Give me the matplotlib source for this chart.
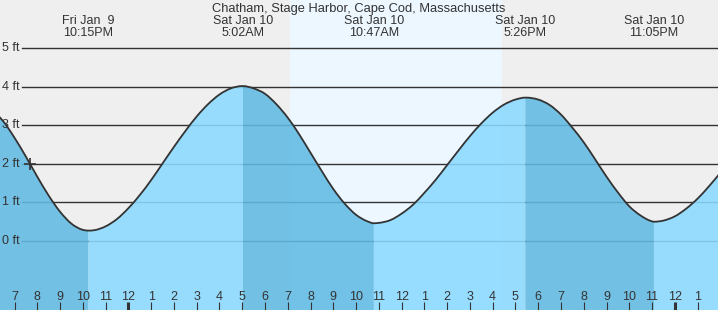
import numpy as np
import matplotlib.pyplot as plt
import matplotlib.transforms as mtransforms
from matplotlib.path import Path
from matplotlib.patches import PathPatch

plt.rcParams['font.family'] = ['Liberation Sans', 'DejaVu Sans']

TITLE = "Chatham, Stage Harbor, Cape Cod, Massachusetts"

# tide height (ft) read every half hour, hours counted from Fri Jan 9 00:00
hours = np.arange(18.0, 50.5, 0.5)
heights = [3.41, 3.11, 2.68, 2.19, 1.67, 1.18, 0.76, 0.45, 0.29,
           0.28, 0.38, 0.57, 0.85, 1.19, 1.58, 2.01, 2.44, 2.85, 3.23, 3.55, 3.80, 3.96, 4.02,
           3.96, 3.82, 3.55, 3.20, 2.77, 2.29, 1.81, 1.35, 0.97, 0.68, 0.51,
           0.47, 0.54, 0.71, 0.94, 1.25, 1.59, 1.97, 2.35, 2.72, 3.05, 3.33, 3.54, 3.67, 3.72,
           3.67, 3.53, 3.28, 2.94, 2.56, 2.12, 1.67, 1.26, 0.90, 0.66, 0.51,
           0.53, 0.64, 0.84, 1.10, 1.42, 1.77]

# highs and lows
ext_hours = [22.25, 29.0333, 34.7833, 41.4333, 47.0833]
ext_heights = [0.27, 4.02, 0.46, 3.72, 0.50]
ext_kind = ["low", "high", "low", "high", "low"]
ext_dates = ["Fri Jan  9", "Sat Jan 10", "Sat Jan 10", "Sat Jan 10", "Sat Jan 10"]
ext_times = ["10:15PM", "5:02AM", "10:47AM", "5:26PM", "11:05PM"]

sunrise, sunset = 31.09, 40.43
now_hour, now_height = 19.69, 2.0
ft_levels = [0, 1, 2, 3, 4, 5]
hour_ticks = list(range(19, 50))

BG = '#efefef'
DAY = '#edf7ff'
LIGHT = '#8bdaff'
DARK = '#61bae3'
INK = '#333333'

W, H = 718, 310
fig = plt.figure(figsize=(W / 100, H / 100), dpi=100, facecolor=BG)
ax = fig.add_axes([0, 0, 1, 1])
ax.set_facecolor(BG)
ax.set_axis_off()
x0 = 19 - 14.5 / 22.77
ax.set_xlim(x0, x0 + W / 22.77)
ax.set_ylim(-(H - 241) / 38.54, 241 / 38.54)

def py(p):
    # pixel row from top -> figure fraction
    return 1 - p / H

xdata_yfig = ax.get_xaxis_transform()
xfig_ydata = mtransforms.blended_transform_factory(ax.transAxes, ax.transData)

# daylight band
ax.axvspan(sunrise, sunset, color=DAY, lw=0, zorder=0)

# level lines (under the water) and their labels
for lv in ft_levels:
    ax.axhline(lv, xmin=22 / W, xmax=1, color=INK, lw=1.0, zorder=1)
    ax.text(20 / W, lv, f"{lv} ft", transform=xfig_ydata, ha='right', va='center',
            fontsize=9, color=INK, zorder=2.5)

# merge readings with the extremes so the colour breaks fall exactly on them
t_all = np.concatenate([hours, ext_hours])
h_all = np.concatenate([heights, ext_heights])
order = np.argsort(t_all)
t_all, h_all = t_all[order], h_all[order]
ext_idx = [int(np.where(t_all == t)[0][0]) for t in ext_hours]

# smooth path through the readings (flat at highs and lows)
slope = np.gradient(h_all, t_all)
slope[ext_idx] = 0.0

def curve(i0, i1):
    verts, codes = [], []
    for i in range(i0, i1):
        dt = t_all[i + 1] - t_all[i]
        verts += [(t_all[i] + dt / 3, h_all[i] + slope[i] * dt / 3),
                  (t_all[i + 1] - dt / 3, h_all[i + 1] - slope[i + 1] * dt / 3),
                  (t_all[i + 1], h_all[i + 1])]
        codes += [Path.CURVE4] * 3
    return verts, codes

bottom = ax.get_ylim()[0]
cuts = [0] + ext_idx + [len(t_all) - 1]
for k in range(len(cuts) - 1):
    a, b = cuts[k], cuts[k + 1]
    falling = ext_kind[0] == "low" if k == 0 else ext_kind[k - 1] == "high"
    v, c = curve(a, b)
    verts = [(t_all[a], bottom), (t_all[a], h_all[a])] + v + [(t_all[b], bottom), (t_all[a], bottom)]
    codes = [Path.MOVETO, Path.LINETO] + c + [Path.LINETO, Path.CLOSEPOLY]
    ax.add_patch(PathPatch(Path(verts, codes), facecolor=DARK if falling else LIGHT,
                           alpha=0.88, lw=0, zorder=2))

v, c = curve(0, len(t_all) - 1)
line = Path([(t_all[0], h_all[0])] + v, [Path.MOVETO] + c)
ax.add_patch(PathPatch(line, fill=False, edgecolor=INK, lw=1.3, zorder=3))
ax.plot([now_hour], [now_height], marker='+', ms=9, mew=1.2, color=INK, zorder=4)

# title and high/low labels
fig.text(0.5, py(12.2), TITLE, ha='center', va='baseline', fontsize=9.3, color=INK)
for t, d, s in zip(ext_hours, ext_dates, ext_times):
    ax.text(t, py(24.3), d, transform=xdata_yfig, ha='center', va='baseline', fontsize=9, color=INK)
    ax.text(t, py(36.0), s, transform=xdata_yfig, ha='center', va='baseline', fontsize=9, color=INK)

# hour ticks along the bottom
for hr in hour_ticks:
    midnight = hr % 24 == 0
    ax.plot([hr, hr], [0, 8 / H], transform=xdata_yfig, color=INK,
            lw=2.2 if midnight else 0.8, solid_capstyle='butt', zorder=5)
    ax.text(hr, py(300), str((hr - 1) % 12 + 1), transform=xdata_yfig, ha='center',
            va='baseline', fontsize=9, color=INK, zorder=5)

plt.savefig("out.png", dpi=100, facecolor=BG)
plt.close()
